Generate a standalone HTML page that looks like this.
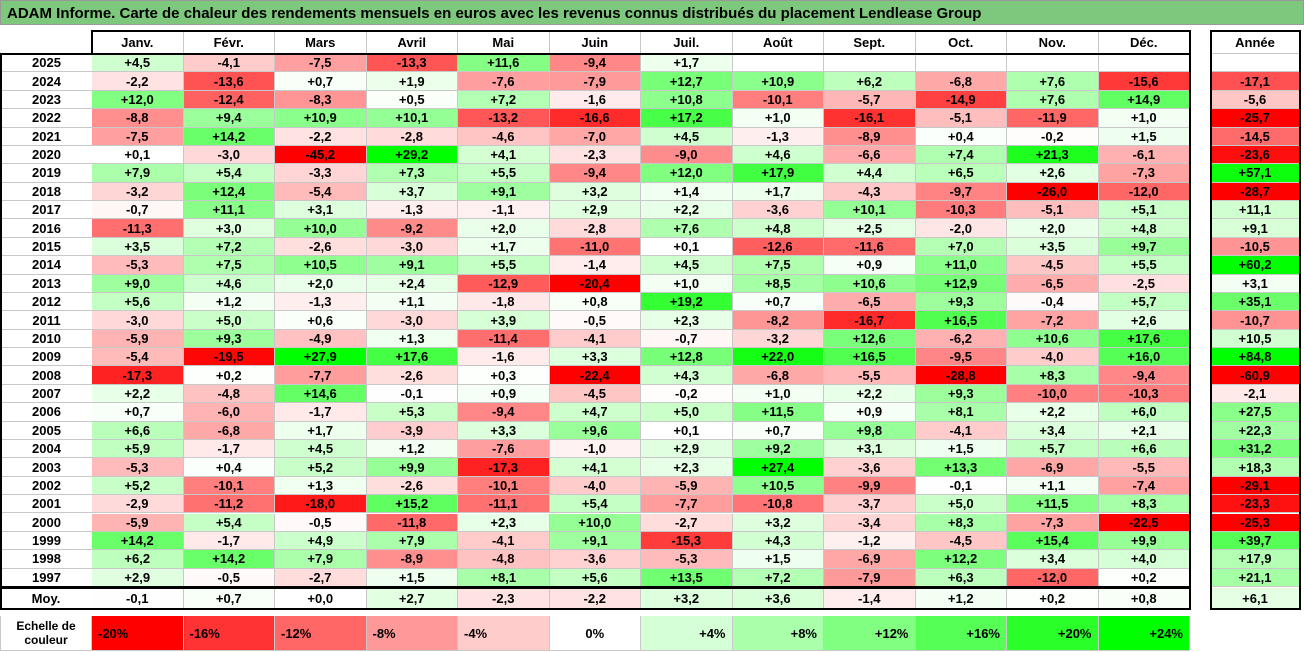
<!DOCTYPE html>
<html><head><meta charset="utf-8"><style>
body{margin:0;width:1304px;height:652px;background:#fff;position:relative;overflow:hidden;font-family:"Liberation Sans",sans-serif;font-weight:bold;color:#000}
.c{position:absolute;box-sizing:border-box;font-size:13px;display:flex;align-items:center;justify-content:center;border-right:1px solid #c8c8c8;border-bottom:1px solid #c8c8c8}
#title{position:absolute;left:0;top:0;width:1304px;height:25px;background:#7dc87d;font-size:15px;line-height:25px;padding-left:6px;box-sizing:border-box;border:1px solid #999}
.box{position:absolute;border:2px solid #000;box-sizing:border-box;pointer-events:none}
</style></head><body>
<div id="title">ADAM Informe. Carte de chaleur des rendements mensuels en euros avec les revenus connus distribués du placement Lendlease Group</div>
<div id="grid"></div>
<script>
const months=["Janv.","Févr.","Mars","Avril","Mai","Juin","Juil.","Août","Sept.","Oct.","Nov.","Déc."];
const years=["2025","2024","2023","2022","2021","2020","2019","2018","2017","2016","2015","2014","2013","2012","2011","2010","2009","2008","2007","2006","2005","2004","2003","2002","2001","2000","1999","1998","1997"];
const values=[
[4.5,-4.1,-7.5,-13.3,11.6,-9.4,1.7,null,null,null,null,null],
[-2.2,-13.6,0.7,1.9,-7.6,-7.9,12.7,10.9,6.2,-6.8,7.6,-15.6],
[12.0,-12.4,-8.3,0.5,7.2,-1.6,10.8,-10.1,-5.7,-14.9,7.6,14.9],
[-8.8,9.4,10.9,10.1,-13.2,-16.6,17.2,1.0,-16.1,-5.1,-11.9,1.0],
[-7.5,14.2,-2.2,-2.8,-4.6,-7.0,4.5,-1.3,-8.9,0.4,-0.2,1.5],
[0.1,-3.0,-45.2,29.2,4.1,-2.3,-9.0,4.6,-6.6,7.4,21.3,-6.1],
[7.9,5.4,-3.3,7.3,5.5,-9.4,12.0,17.9,4.4,6.5,2.6,-7.3],
[-3.2,12.4,-5.4,3.7,9.1,3.2,1.4,1.7,-4.3,-9.7,-26.0,-12.0],
[-0.7,11.1,3.1,-1.3,-1.1,2.9,2.2,-3.6,10.1,-10.3,-5.1,5.1],
[-11.3,3.0,10.0,-9.2,2.0,-2.8,7.6,4.8,2.5,-2.0,2.0,4.8],
[3.5,7.2,-2.6,-3.0,1.7,-11.0,0.1,-12.6,-11.6,7.0,3.5,9.7],
[-5.3,7.5,10.5,9.1,5.5,-1.4,4.5,7.5,0.9,11.0,-4.5,5.5],
[9.0,4.6,2.0,2.4,-12.9,-20.4,1.0,8.5,10.6,12.9,-6.5,-2.5],
[5.6,1.2,-1.3,1.1,-1.8,0.8,19.2,0.7,-6.5,9.3,-0.4,5.7],
[-3.0,5.0,0.6,-3.0,3.9,-0.5,2.3,-8.2,-16.7,16.5,-7.2,2.6],
[-5.9,9.3,-4.9,1.3,-11.4,-4.1,-0.7,-3.2,12.6,-6.2,10.6,17.6],
[-5.4,-19.5,27.9,17.6,-1.6,3.3,12.8,22.0,16.5,-9.5,-4.0,16.0],
[-17.3,0.2,-7.7,-2.6,0.3,-22.4,4.3,-6.8,-5.5,-28.8,8.3,-9.4],
[2.2,-4.8,14.6,-0.1,0.9,-4.5,-0.2,1.0,2.2,9.3,-10.0,-10.3],
[0.7,-6.0,-1.7,5.3,-9.4,4.7,5.0,11.5,0.9,8.1,2.2,6.0],
[6.6,-6.8,1.7,-3.9,3.3,9.6,0.1,0.7,9.8,-4.1,3.4,2.1],
[5.9,-1.7,4.5,1.2,-7.6,-1.0,2.9,9.2,3.1,1.5,5.7,6.6],
[-5.3,0.4,5.2,9.9,-17.3,4.1,2.3,27.4,-3.6,13.3,-6.9,-5.5],
[5.2,-10.1,1.3,-2.6,-10.1,-4.0,-5.9,10.5,-9.9,-0.1,1.1,-7.4],
[-2.9,-11.2,-18.0,15.2,-11.1,5.4,-7.7,-10.8,-3.7,5.0,11.5,8.3],
[-5.9,5.4,-0.5,-11.8,2.3,10.0,-2.7,3.2,-3.4,8.3,-7.3,-22.5],
[14.2,-1.7,4.9,7.9,-4.1,9.1,-15.3,4.3,-1.2,-4.5,15.4,9.9],
[6.2,14.2,7.9,-8.9,-4.8,-3.6,-5.3,1.5,-6.9,12.2,3.4,4.0],
[2.9,-0.5,-2.7,1.5,8.1,5.6,13.5,7.2,-7.9,6.3,-12.0,0.2]];
const annual=[null,-17.1,-5.6,-25.7,-14.5,-23.6,57.1,-28.7,11.1,9.1,-10.5,60.2,3.1,35.1,-10.7,10.5,84.8,-60.9,-2.1,27.5,22.3,31.2,18.3,-29.1,-23.3,-25.3,39.7,17.9,21.1];
const averages=[-0.1,0.7,0.0,2.7,-2.3,-2.2,3.2,3.6,-1.4,1.2,0.2,0.8];
const avgAnnual=6.1;
const scaleTicks=[-20,-16,-12,-8,-4,0,4,8,12,16,20,24];

const g=document.getElementById('grid');
const X0=92,CW=91.5,AX=1211,AW=89,HY=31,HH=23,RY=54,RH=18.38;
function col(v,neg,pos){
  if(v===null)return '#fff';
  if(v<0){const t=Math.min(-v/neg,1);const o=Math.round(255*(1-t));return `rgb(255,${o},${o})`;}
  const t=Math.min(v/pos,1);const o=Math.round(255*(1-t));return `rgb(${o},255,${o})`;
}
function fmt(v){return v===null?'':(v>=0?'+':'')+v.toFixed(1).replace('.',',');}
function cell(x,y,w,h,txt,bg,name,align){
  const d=document.createElement('div');d.className='c';
  d.style.cssText=`left:${x}px;top:${y}px;width:${w}px;height:${h}px;background:${bg};`+(align?`justify-content:${align};padding:0 6px;`:'');
  d.textContent=txt;
  
  
  g.appendChild(d);return d;
}
months.forEach((m,i)=>cell(X0+i*CW,HY,CW,HH,m,'#fff','month-header'));
cell(AX,HY,AW,HH,'Année','#fff','year-total-header');
years.forEach((y,r)=>{
  const yy=RY+r*RH;
  const l=cell(0,yy,X0,RH,y,'#fff','year-label');l.style.borderRight='none';l.style.borderLeft='1px solid #c8c8c8';
  values[r].forEach((v,i)=>cell(X0+i*CW,yy,CW,RH,fmt(v),col(v,20,24),'heatmap-cell'));
  if(annual[r]!==null)cell(AX,yy,AW,RH,fmt(annual[r]),col(annual[r],25,60),'annual-cell');
  else cell(AX,yy,AW,RH,'','#fff','annual-cell');
});
const MY=RY+years.length*RH+1,MH=21;
const ml=cell(0,MY,X0,MH,'Moy.','#fff','average-label');ml.style.borderRight='none';
averages.forEach((v,i)=>cell(X0+i*CW,MY,CW,MH,fmt(v),col(v,20,24),'average-cell'));
cell(AX,MY,AW,MH,fmt(avgAnnual),col(avgAnnual,25,60),'average-annual-cell');
const SY=616,SH=35;
const sl=cell(0,SY,X0,SH,'Echelle de couleur','#fff','scale-label');sl.style.textAlign='center';sl.style.fontSize='12px';sl.style.borderLeft='1px solid #c8c8c8';
scaleTicks.forEach((v,i)=>cell(X0+i*CW,SY,CW,SH,(v>0?'+':'')+v+'%',col(v,20,24),'scale-cell',v<0?'flex-start':(v>0?'flex-end':'center')));
function box(x,y,w,h,n){const b=document.createElement('div');b.className='box';b.style.cssText=`left:${x}px;top:${y}px;width:${w}px;height:${h}px`;


g.appendChild(b);}
box(X0-1,HY-1,12*CW+2,HH+2,'header-border');
box(0,RY-1,X0+12*CW+1,years.length*RH+2,'body-border');
box(0,MY-1,X0+12*CW+1,MH+2,'average-border');
box(AX-1,HY-1,AW+2,MY+MH-HY+2,'annual-border');
</script>
</body></html>
